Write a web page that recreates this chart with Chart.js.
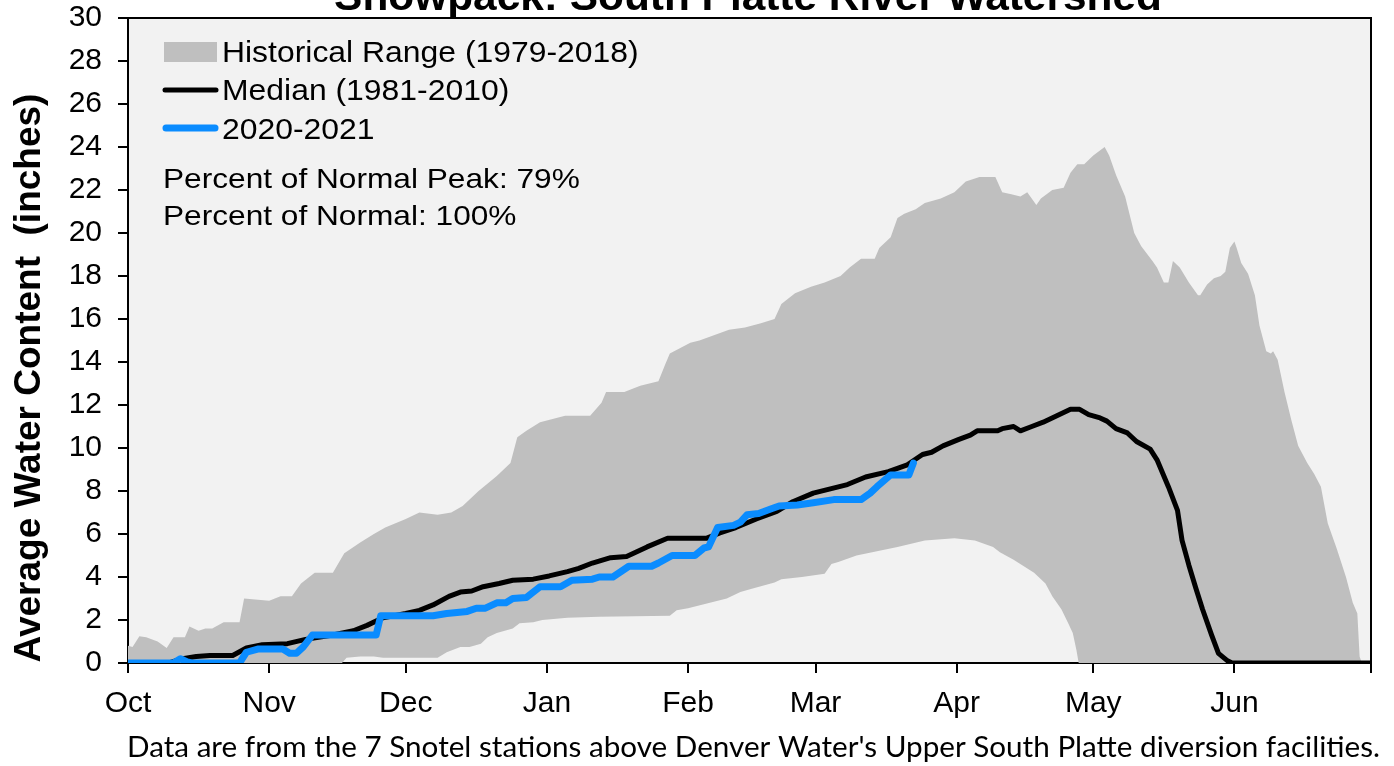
<!DOCTYPE html>
<html>
<head>
<meta charset="utf-8">
<title>Snowpack: South Platte River Watershed</title>
<script src="https://cdn.jsdelivr.net/npm/chart.js@4.4.1/dist/chart.umd.min.js"></script>
<style>
  html, body { margin: 0; padding: 0; background: #fff; }
  #wrap { width: 1394px; height: 766px; }
</style>
</head>
<body>
<div id="wrap"><canvas id="grafico" width="1394" height="766"></canvas></div>
<script>
// ============================================
// DADOS - dias contados desde 1 de Outubro
// ============================================
const monthTicks = [0, 31, 61, 92, 123, 151, 182, 212, 243, 273];
const monthLabels = ['Oct', 'Nov', 'Dec', 'Jan', 'Feb', 'Mar', 'Apr', 'May', 'Jun', ''];

// Historical Range (1979-2018) - maximo
const maxDays = [0, 1, 2.5, 4, 6.5, 8.5, 10, 12.5, 13.5, 15.5, 17, 18.5, 21, 24.5, 25.5, 31, 33.5, 36, 38, 41, 45, 47.5, 51, 54, 56.5, 61, 64, 68, 71, 73.5, 77, 81, 84, 85.5, 87.5, 90.5, 96, 101.5, 104, 105, 109, 112.5, 116.5, 118, 119, 123.5, 125.5, 132, 135.5, 139, 142, 143.5, 146.5, 150, 153, 156.5, 158.5, 161, 164, 165, 167.5, 169, 170.5, 173, 175, 178.5, 181.5, 184, 187, 190.5, 192, 194, 196, 197.5, 199.5, 200.5, 203, 205.5, 207, 208.5, 210, 212, 214.5, 215.5, 217, 219, 221, 222.5, 225, 226, 227.5, 228.5, 229.5, 231, 233, 235, 235.5, 237, 238.5, 240, 241, 242, 243, 243.5, 244.5, 246, 247.5, 248.5, 250, 251, 251.5, 252.5, 254, 255.5, 257, 259, 260.5, 262, 263.5, 265.5, 267.5, 269, 270, 270.5, 271, 273];
const maxVals = [0.8, 0.75, 1.25, 1.2, 1.0, 0.7, 1.2, 1.2, 1.7, 1.5, 1.6, 1.6, 1.9, 1.9, 3.0, 2.9, 3.1, 3.1, 3.7, 4.2, 4.2, 5.1, 5.6, 6.0, 6.3, 6.7, 7.0, 6.9, 7.0, 7.3, 8.0, 8.7, 9.3, 10.5, 10.8, 11.2, 11.5, 11.5, 12.1, 12.6, 12.6, 12.9, 13.1, 13.9, 14.4, 14.9, 15.0, 15.5, 15.6, 15.8, 16.0, 16.7, 17.2, 17.5, 17.7, 18.0, 18.4, 18.8, 18.8, 19.3, 19.8, 20.7, 20.9, 21.1, 21.4, 21.6, 21.9, 22.4, 22.6, 22.6, 21.9, 21.8, 21.7, 21.9, 21.3, 21.6, 22.0, 22.1, 22.8, 23.2, 23.2, 23.6, 24.0, 23.6, 22.7, 21.7, 20.0, 19.4, 18.7, 18.4, 17.7, 17.7, 18.7, 18.4, 17.7, 17.1, 17.1, 17.6, 17.9, 18.0, 18.2, 19.3, 19.6, 19.3, 18.6, 18.1, 17.1, 15.7, 14.5, 14.4, 14.5, 14.1, 12.6, 11.3, 10.1, 9.3, 8.8, 8.2, 6.5, 5.3, 4.0, 2.8, 2.3, 0.3, 0, 0];

// Historical Range (1979-2018) - minimo
const minDays = [0, 47, 48, 51, 54, 56, 60, 68, 70, 73, 75, 77.5, 79, 81, 84.5, 86, 89, 91, 96.5, 103.5, 119, 120.5, 123, 131.5, 134.5, 137, 142, 143.5, 148, 153, 154.5, 156, 160, 164.5, 169, 175, 181.5, 186, 190, 191.5, 194.5, 199, 201.5, 203, 205, 206.5, 207.5, 208.3, 208.8, 273];
const minVals = [0, 0, 0.25, 0.3, 0.3, 0.25, 0.25, 0.25, 0.5, 0.75, 0.75, 0.9, 1.2, 1.4, 1.6, 1.85, 1.9, 2.0, 2.1, 2.15, 2.2, 2.45, 2.55, 3.0, 3.3, 3.45, 3.75, 3.9, 4.0, 4.15, 4.6, 4.7, 5.0, 5.2, 5.4, 5.7, 5.8, 5.7, 5.4, 5.15, 4.8, 4.2, 3.7, 3.1, 2.5, 1.85, 1.4, 0.6, 0, 0];

// Median (1981-2010)
const medianDays = [0, 9, 12, 15, 18, 23, 26, 29.5, 35, 39, 45, 49.5, 52.5, 56, 61, 64, 67, 70.5, 73, 75.5, 78, 81.5, 84.5, 89, 92.5, 96.5, 99, 102, 106, 109.5, 114, 118.5, 127, 130, 133.5, 138, 142.5, 146, 150.5, 158, 162, 167, 171, 174.5, 176.5, 179, 182.5, 185, 186.5, 191, 192, 194.5, 196, 198.5, 201, 204, 207, 209, 211, 213.5, 215, 217, 219.5, 221.5, 224.5, 226, 228.5, 230.5, 231.5, 233, 234.5, 236, 238, 239.5, 241.5, 242.5, 273];
const medianVals = [0, 0, 0.2, 0.3, 0.35, 0.35, 0.7, 0.85, 0.9, 1.1, 1.3, 1.5, 1.75, 2.1, 2.3, 2.45, 2.7, 3.1, 3.3, 3.35, 3.55, 3.7, 3.85, 3.9, 4.05, 4.25, 4.4, 4.65, 4.9, 4.95, 5.4, 5.8, 5.8, 6.05, 6.3, 6.7, 7.05, 7.5, 7.9, 8.3, 8.65, 8.9, 9.2, 9.7, 9.8, 10.1, 10.4, 10.6, 10.8, 10.8, 10.9, 11.0, 10.8, 11.0, 11.2, 11.5, 11.8, 11.8, 11.55, 11.4, 11.25, 10.9, 10.7, 10.3, 9.95, 9.45, 8.2, 7.1, 5.7, 4.55, 3.5, 2.5, 1.3, 0.45, 0.1, 0, 0];

// 2020-2021
const currentDays = [0, 10, 11.5, 13, 14, 24.5, 26, 28.5, 34, 35.5, 37, 38.5, 40.5, 54.5, 55.5, 67, 70, 74.5, 76.5, 78.5, 81, 83, 84.5, 87.5, 90.5, 95, 97.5, 102, 103.5, 106.5, 110, 115, 116.5, 119.5, 124.5, 126.5, 127.5, 129.5, 133, 134.5, 136, 138.5, 141, 143, 147, 150.5, 155, 161, 163, 164.5, 167.5, 171.5, 172.5];
const currentVals = [0, 0, 0.2, 0.05, 0, 0, 0.5, 0.65, 0.65, 0.45, 0.45, 0.75, 1.3, 1.3, 2.2, 2.2, 2.3, 2.4, 2.55, 2.55, 2.8, 2.8, 3.0, 3.05, 3.55, 3.55, 3.85, 3.9, 4.0, 4.0, 4.5, 4.5, 4.65, 5.0, 5.0, 5.35, 5.4, 6.3, 6.4, 6.55, 6.9, 6.95, 7.15, 7.3, 7.35, 7.45, 7.6, 7.6, 7.9, 8.2, 8.75, 8.75, 9.3];

const paraPontos = (dias, vals) => dias.map((d, i) => ({ x: d, y: vals[i] }));

// ============================================
// TEXTOS E DECORACAO
// ============================================
function textoEsticado(ctx, texto, x, y, fonte, sx, align) {
    ctx.save();
    ctx.font = fonte;
    ctx.textAlign = align || 'left';
    ctx.textBaseline = 'alphabetic';
    ctx.translate(x, y);
    ctx.scale(sx, 1);
    ctx.fillText(texto, 0, 0);
    ctx.restore();
}

const decoracao = {
    id: 'decoracao',
    beforeDraw(chart) {
        const { ctx, chartArea: a } = chart;
        ctx.save();
        ctx.fillStyle = '#f2f2f2';
        ctx.fillRect(a.left, a.top, a.right - a.left, a.bottom - a.top);
        ctx.restore();
    },
    beforeDatasetsDraw(chart) {
        const { ctx, chartArea: a } = chart;
        ctx.save();
        ctx.strokeStyle = '#000';
        ctx.lineWidth = 2;
        ctx.beginPath();
        ctx.moveTo(a.left, a.top);
        ctx.lineTo(a.right, a.top);
        ctx.lineTo(a.right, a.bottom);
        ctx.stroke();
        ctx.restore();
    },
    afterDraw(chart) {
        const { ctx } = chart;
        ctx.save();
        ctx.fillStyle = '#000';

        // titulo (cortado no topo, como no original)
        textoEsticado(ctx, 'Snowpack: South Platte River Watershed', 748, 10, 'bold 40px "Liberation Sans", Arial, sans-serif', 1.06, 'center');

        // titulo do eixo y
        ctx.save();
        ctx.translate(40, 378);
        ctx.rotate(-Math.PI / 2);
        ctx.font = 'bold 37px "Liberation Sans", Arial, sans-serif';
        ctx.textAlign = 'center';
        ctx.textBaseline = 'alphabetic';
        ctx.fillText('Average Water Content  (inches)', 0, 0);
        ctx.restore();

        // legenda
        ctx.fillStyle = '#bfbfbf';
        ctx.fillRect(164, 42, 53, 20);
        ctx.lineCap = 'round';
        ctx.strokeStyle = '#000';
        ctx.lineWidth = 5;
        ctx.beginPath(); ctx.moveTo(165, 90); ctx.lineTo(216, 90); ctx.stroke();
        ctx.strokeStyle = '#0a8cff';
        ctx.lineWidth = 7;
        ctx.beginPath(); ctx.moveTo(166, 128); ctx.lineTo(215, 128); ctx.stroke();

        ctx.fillStyle = '#000';
        const fLeg = '29px "Liberation Sans", Arial, sans-serif';
        textoEsticado(ctx, 'Historical Range (1979-2018)', 222, 62, fLeg, 1.1);
        textoEsticado(ctx, 'Median (1981-2010)', 222, 100, fLeg, 1.1);
        textoEsticado(ctx, '2020-2021', 222, 139, fLeg, 1.1);

        const fPct = '28px "Liberation Sans", Arial, sans-serif';
        textoEsticado(ctx, 'Percent of Normal Peak: 79%', 163, 188, fPct, 1.13);
        textoEsticado(ctx, 'Percent of Normal: 100%', 163, 225, fPct, 1.13);

        // rodape
        const rodape = "Data are from the 7 Snotel stations above Denver Water's Upper South Platte diversion facilities.";
        const fRod = '28px Lato, "Open Sans", sans-serif';
        ctx.font = fRod;
        const larg = ctx.measureText(rodape).width;
        textoEsticado(ctx, rodape, 127, 757, fRod, 1253 / larg);

        ctx.restore();
    }
};

// ============================================
// GRAFICO
// ============================================
const ctx = document.getElementById('grafico').getContext('2d');
new Chart(ctx, {
    type: 'line',
    data: {
        datasets: [
            {
                label: 'Historical Range (1979-2018)',
                data: paraPontos(maxDays, maxVals),
                borderWidth: 0,
                backgroundColor: '#bfbfbf',
                fill: '+1',
                pointRadius: 0,
                order: 4
            },
            {
                label: 'Historical Min',
                data: paraPontos(minDays, minVals),
                borderWidth: 0,
                borderColor: 'rgba(0,0,0,0)',
                fill: false,
                pointRadius: 0,
                order: 3
            },
            {
                label: 'Median (1981-2010)',
                data: paraPontos(medianDays, medianVals),
                borderColor: '#000',
                borderWidth: 5,
                borderJoinStyle: 'round',
                borderCapStyle: 'round',
                fill: false,
                pointRadius: 0,
                order: 2
            },
            {
                label: '2020-2021',
                data: paraPontos(currentDays, currentVals),
                borderColor: '#0a8cff',
                borderWidth: 7,
                borderJoinStyle: 'round',
                borderCapStyle: 'round',
                fill: false,
                pointRadius: 0,
                order: 1
            }
        ]
    },
    options: {
        responsive: false,
        animation: false,
        events: [],
        layout: { padding: { left: 0, top: 18, right: 23, bottom: 43 } },
        plugins: {
            legend: { display: false },
            tooltip: { enabled: false },
            title: { display: false }
        },
        scales: {
            x: {
                type: 'linear',
                min: 0,
                max: 273,
                afterBuildTicks: (scale) => { scale.ticks = monthTicks.map(v => ({ value: v })); },
                afterFit: (scale) => { scale.height = 60; },
                ticks: {
                    autoSkip: false,
                    maxRotation: 0,
                    padding: 13,
                    color: '#000',
                    font: { family: '"Liberation Sans", Arial, sans-serif', size: 30 },
                    callback: (v) => monthLabels[monthTicks.indexOf(v)] ?? ''
                },
                grid: { drawOnChartArea: false, drawTicks: true, tickLength: 10, color: '#000', lineWidth: 2 },
                border: { display: true, color: '#000', width: 2 }
            },
            y: {
                min: 0,
                max: 30,
                afterFit: (scale) => {
                    scale.width = 128;
                    scale.paddingTop = 0;
                    scale.paddingBottom = 0;
                },
                ticks: {
                    stepSize: 2,
                    padding: 16,
                    color: '#000',
                    font: { family: '"Liberation Sans", Arial, sans-serif', size: 30 }
                },
                grid: { drawOnChartArea: false, drawTicks: true, tickLength: 10, color: '#000', lineWidth: 2 },
                border: { display: true, color: '#000', width: 2 }
            }
        }
    },
    plugins: [decoracao]
});
</script>
</body>
</html>
